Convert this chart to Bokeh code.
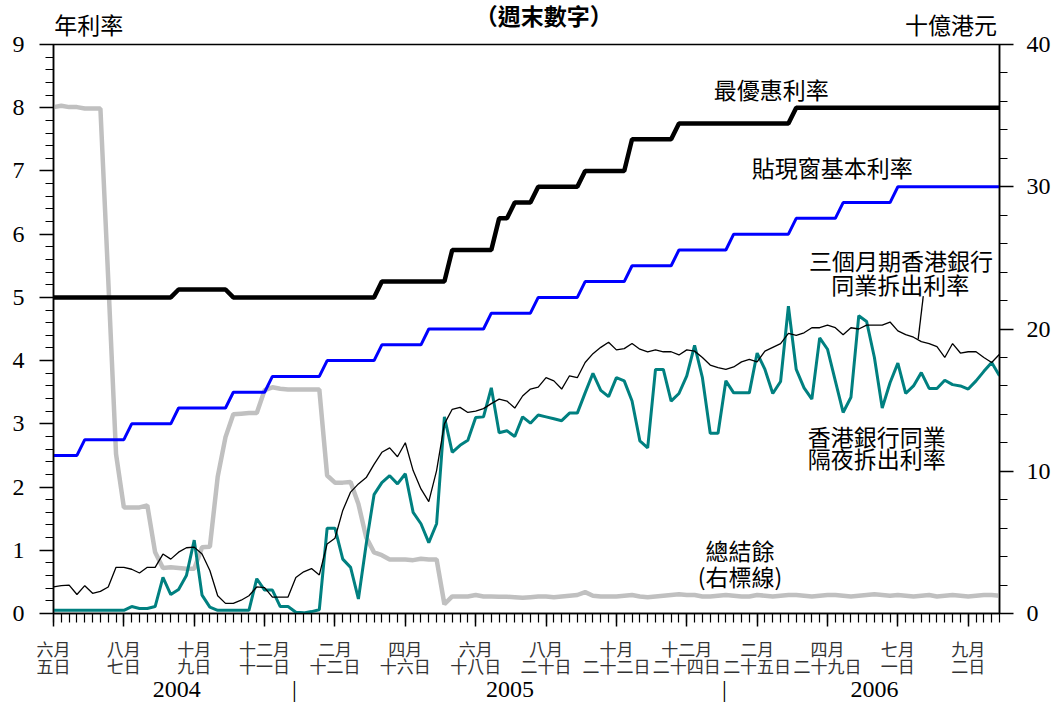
from bokeh.plotting import figure
from bokeh.models import Range1d, LinearAxis, FixedTicker
from bokeh.models import Label
from bokeh.embed import file_html
from bokeh.resources import INLINE

# weekly observations (Saturdays) from 5 Jun 2004 to 30 Sep 2006 -> week index 0..121
weeks = list(range(122))

prime_rate = (
    [5.0] * 16 + [5.125] * 7 + [5.0] * 19 + [5.25] * 9 + [5.75] * 6 + [6.25] * 2
    + [6.5] * 3 + [6.75] * 6 + [7.0] * 6 + [7.5] * 6 + [7.75] * 15 + [8.0] * 27
)

base_rate = (
    [2.5] * 4 + [2.75] * 6 + [3.0] * 6 + [3.25] * 7 + [3.5] * 5 + [3.75] * 7
    + [4.0] * 7 + [4.25] * 6 + [4.5] * 8 + [4.75] * 6 + [5.0] * 6 + [5.25] * 6
    + [5.5] * 6 + [5.75] * 7 + [6.0] * 8 + [6.25] * 6 + [6.5] * 7 + [6.75] * 14
)

hibor_3m = [
    0.42, 0.44, 0.45, 0.30, 0.44, 0.32, 0.35, 0.42, 0.73, 0.73,
    0.70, 0.64, 0.73, 0.73, 0.94, 0.86, 0.97, 1.04, 1.05, 0.94,
    0.68, 0.28, 0.16, 0.16, 0.21, 0.28, 0.42, 0.41, 0.26, 0.26,
    0.26, 0.57, 0.66, 0.71, 0.61, 1.10, 1.19, 1.63, 1.92, 2.05,
    2.15, 2.36, 2.55, 2.62, 2.48, 2.70, 2.26, 1.97, 1.77, 2.26,
    3.00, 3.23, 3.26, 3.18, 3.20, 3.24, 3.32, 3.39, 3.36, 3.25,
    3.44, 3.55, 3.58, 3.73, 3.68, 3.55, 3.76, 3.73, 3.97, 4.11,
    4.21, 4.29, 4.17, 4.19, 4.27, 4.18, 4.14, 4.17, 4.14, 4.14,
    4.09, 4.17, 4.15, 4.05, 3.93, 3.89, 3.86, 3.90, 3.98, 4.02,
    3.98, 4.15, 4.21, 4.27, 4.43, 4.40, 4.44, 4.52, 4.52, 4.56,
    4.52, 4.41, 4.52, 4.50, 4.56, 4.56, 4.56, 4.61, 4.47, 4.41,
    4.37, 4.30, 4.27, 4.22, 4.05, 4.27, 4.12, 4.14, 4.14, 4.05,
    3.97, 4.10,
]

hibor_on = [
    0.05, 0.05, 0.05, 0.05, 0.05, 0.05, 0.05, 0.05, 0.05, 0.05,
    0.11, 0.08, 0.08, 0.11, 0.57, 0.30, 0.38, 0.60, 1.16, 0.29,
    0.10, 0.05, 0.05, 0.05, 0.05, 0.05, 0.55, 0.37, 0.37, 0.11,
    0.11, 0.02, 0.01, 0.03, 0.06, 1.35, 1.35, 0.86, 0.73, 0.23,
    1.10, 1.88, 2.07, 2.18, 2.05, 2.21, 1.60, 1.42, 1.12, 1.42,
    3.11, 2.55, 2.66, 2.74, 3.10, 3.11, 3.57, 2.86, 2.89, 2.80,
    3.11, 3.01, 3.14, 3.11, 3.08, 3.05, 3.17, 3.17, 3.49, 3.80,
    3.53, 3.43, 3.73, 3.68, 3.36, 2.73, 2.62, 3.86, 3.86, 3.36,
    3.48, 3.76, 4.24, 3.73, 2.85, 2.85, 3.68, 3.49, 3.49, 3.49,
    4.12, 3.86, 3.48, 3.67, 4.86, 3.86, 3.57, 3.39, 4.36, 4.18,
    3.68, 3.18, 3.42, 4.71, 4.62, 4.05, 3.25, 3.65, 3.96, 3.48,
    3.60, 3.81, 3.56, 3.56, 3.69, 3.62, 3.60, 3.55, 3.68, 3.83,
    3.97, 3.76,
]

aggregate_balance = [
    35.6, 35.7, 35.6, 35.6, 35.5, 35.5, 35.5, 23.5, 11.2, 7.46,
    7.46, 7.46, 7.6, 4.3, 3.2, 3.25, 3.2, 3.15, 3.15, 4.65,
    4.7, 9.6, 12.4, 14.0, 14.05, 14.1, 14.1, 15.7, 15.9, 15.8,
    15.75, 15.75, 15.75, 15.75, 15.75, 9.7, 9.2, 9.2, 9.25, 7.7,
    5.35, 4.3, 4.1, 3.8, 3.8, 3.8, 3.75, 3.85, 3.8, 3.8,
    0.65, 1.2, 1.2, 1.2, 1.3, 1.2, 1.2, 1.18, 1.18, 1.15,
    1.1, 1.15, 1.2, 1.2, 1.15, 1.2, 1.25, 1.3, 1.5, 1.25,
    1.2, 1.2, 1.2, 1.25, 1.3, 1.2, 1.15, 1.2, 1.25, 1.3,
    1.35, 1.3, 1.3, 1.2, 1.2, 1.25, 1.3, 1.25, 1.2, 1.2,
    1.3, 1.25, 1.2, 1.25, 1.3, 1.3, 1.25, 1.2, 1.25, 1.3,
    1.3, 1.25, 1.2, 1.25, 1.3, 1.35, 1.3, 1.25, 1.3, 1.25,
    1.2, 1.25, 1.3, 1.2, 1.25, 1.3, 1.25, 1.2, 1.25, 1.3,
    1.3, 1.25,
]

month_ticks = [0, 9, 18, 27, 36, 45, 54, 63, 72, 81, 90, 99, 108, 117]
month_labels = [
    "六月\n五日", "八月\n七日", "十月\n九日", "十二月\n十一日", "二月\n十二日",
    "四月\n十六日", "六月\n十八日", "八月\n二十日", "十月\n二十二日",
    "十二月\n二十四日", "二月\n二十五日", "四月\n二十九日", "七月\n一日", "九月\n二日",
]
# year labels and the "|" dividers between years
year_ticks = [15.75, 30.8, 58.4, 85.8, 105.0]
year_labels = ["2004", "|", "2005", "|", "2006"]

unit_positions = [4.5, 114.8]
unit_labels = ["年利率", "十億港元"]
chart_title = "（週末數字）"

left_ticks = [0, 1, 2, 3, 4, 5, 6, 7, 8, 9]
right_ticks = [0, 10, 20, 30, 40]

CJK = "Noto Sans CJK TC"
CJK_TIGHT = "Liberation Sans, Noto Sans CJK TC"
SERIF = "Liberation Serif"

p = figure(width=1055, height=708, output_backend="svg", toolbar_location=None, title=None,
           x_range=Range1d(0, 121), y_range=Range1d(0, 9),
           min_border_left=53, min_border_right=56, min_border_top=43, min_border_bottom=95)
p.extra_y_ranges = {"bal": Range1d(0, 40)}
p.xgrid.visible = False
p.ygrid.visible = False
p.outline_line_color = "black"
p.outline_line_width = 1.5
p.background_fill_color = "white"
p.border_fill_color = "white"


def plain_axis(ax):
    ax.axis_line_color = None
    ax.major_tick_line_color = None
    ax.minor_tick_line_color = None
    ax.major_tick_out = 0
    ax.major_tick_in = 0
    ax.minor_tick_out = 0
    ax.minor_tick_in = 0


# x axis
xa = p.xaxis[0]
xa.ticker = FixedTicker(ticks=month_ticks, minor_ticks=weeks)
xa.major_label_overrides = {t: l for t, l in zip(month_ticks, month_labels)}
xa.major_tick_out = 13
xa.major_tick_in = 0
xa.minor_tick_out = 9
xa.minor_tick_in = 0
xa.axis_line_width = 1.5
xa.major_tick_line_width = 1.5
xa.minor_tick_line_width = 1.2
xa.major_label_standoff = 9
xa.major_label_text_font = CJK
xa.major_label_text_font_size = "17px"
xa.major_label_text_color = "#333333"
xa.major_label_text_line_height = 0.69

# year axis
yr = LinearAxis(ticker=FixedTicker(ticks=year_ticks, minor_ticks=[]))
plain_axis(yr)
yr.major_label_overrides = {t: l for t, l in zip(year_ticks, year_labels)}
yr.major_label_standoff = -5
yr.major_label_text_font = SERIF
yr.major_label_text_font_size = "24px"
yr.major_label_text_color = "black"
p.add_layout(yr, "below")

# top axis carrying the unit labels and the heading
ta = LinearAxis(ticker=FixedTicker(ticks=unit_positions, minor_ticks=[]))
plain_axis(ta)
ta.major_label_overrides = {t: l for t, l in zip(unit_positions, unit_labels)}
ta.major_label_standoff = 4
ta.major_label_text_font = CJK
ta.major_label_text_font_size = "23px"
ta.major_label_text_color = "black"
ta.axis_label = "\u3000\u2002" + chart_title
ta.axis_label_text_font = CJK_TIGHT
ta.axis_label_text_font_size = "23px"
ta.axis_label_text_font_style = "bold"
ta.axis_label_text_color = "black"
ta.axis_label_standoff = -26
p.add_layout(ta, "above")

# left axis
ya = p.yaxis[0]
ya.ticker = FixedTicker(ticks=left_ticks, minor_ticks=[i / 5 for i in range(46)])
ya.major_tick_out = 14
ya.major_tick_in = 0
ya.minor_tick_out = 8
ya.minor_tick_in = 0
ya.axis_line_width = 1.5
ya.major_tick_line_width = 1.5
ya.minor_tick_line_width = 1.2
ya.major_label_standoff = 15
ya.major_label_text_font = SERIF
ya.major_label_text_font_size = "24px"
ya.major_label_text_color = "black"

# right axis
ra = LinearAxis(y_range_name="bal",
                ticker=FixedTicker(ticks=right_ticks, minor_ticks=[2 * i for i in range(21)]))
ra.major_tick_out = 14
ra.major_tick_in = 0
ra.minor_tick_out = 8
ra.minor_tick_in = 0
ra.axis_line_width = 1.5
ra.major_tick_line_width = 1.5
ra.minor_tick_line_width = 1.2
ra.major_label_standoff = 13
ra.major_label_text_font = SERIF
ra.major_label_text_font_size = "24px"
ra.major_label_text_color = "black"
p.add_layout(ra, "right")

# series
p.line(weeks, aggregate_balance, y_range_name="bal", line_color="#C0C0C0", line_width=4.5)
p.line(weeks, base_rate, line_color="#0000FF", line_width=3)
p.line(weeks, hibor_on, line_color="#008080", line_width=3)
p.line(weeks, hibor_3m, line_color="black", line_width=1.3)
p.line(weeks, prime_rate, line_color="black", line_width=4.5)
# leader line from label to 3-month HIBOR
p.line([111.25, 110.6], [5.02, 4.34], line_color="black", line_width=1.3)


def lab(x, y, text, size="23px"):
    p.add_layout(Label(x=x, y=y, text=text, text_font=CJK, text_font_size=size,
                       text_align="center", text_baseline="middle", text_color="black"))


lab(91.8, 8.29, "最優惠利率")
lab(99.6, 7.06, "貼現窗基本利率")
lab(108.4, 5.59, "三個月期香港銀行")
lab(108.3, 5.21, "同業拆出利率")
lab(105.3, 2.80, "香港銀行同業")
lab(105.3, 2.46, "隔夜拆出利率")
lab(87.8, 1.01, "總結餘")
lab(87.8, 0.60, "(右標線)")

open("out.html", "w").write(file_html(p, INLINE))
